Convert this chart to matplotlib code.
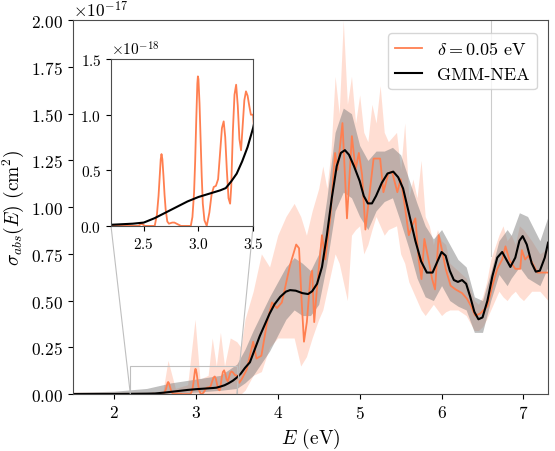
import numpy as np
import matplotlib
matplotlib.use("Agg")
import matplotlib.pyplot as plt
from mpl_toolkits.axes_grid1.inset_locator import mark_inset

plt.rcParams['font.family'] = 'serif'
plt.rcParams['font.serif'] = ['cmr10', 'DejaVu Serif']
plt.rcParams['mathtext.fontset'] = 'cm'
plt.rcParams['axes.formatter.use_mathtext'] = True
plt.rcParams['axes.unicode_minus'] = False

SCALE = 1e-17  # all values below in units of 1e-17 cm^2

# GMM-NEA (black) curve
E_gmm = [1.5, 2.0, 2.2, 2.3, 2.4, 2.5, 2.6, 2.7, 2.8, 2.9, 3.0, 3.05, 3.1,
         3.15, 3.2, 3.25, 3.3, 3.35, 3.4, 3.45, 3.5, 3.55, 3.6,
         3.66, 3.72, 3.78, 3.84, 3.9, 3.96, 4.03, 4.1, 4.15, 4.22, 4.3, 4.37,
         4.42, 4.48, 4.54, 4.6, 4.66, 4.72, 4.77, 4.82, 4.87, 4.93, 5.0, 5.05,
         5.1, 5.15, 5.2, 5.27, 5.34, 5.41, 5.47, 5.53, 5.6, 5.68, 5.75, 5.82,
         5.89, 5.95, 6.0, 6.05, 6.1, 6.15, 6.2, 6.25, 6.3, 6.35, 6.4, 6.45,
         6.5, 6.56, 6.62, 6.68, 6.74, 6.79, 6.84, 6.9, 6.95, 6.99, 7.04, 7.1,
         7.15, 7.2, 7.26, 7.3]
gmm = [0.0, 0.0005, 0.001, 0.0015, 0.002, 0.003, 0.007, 0.012, 0.017, 0.022,
       0.026, 0.0275, 0.029, 0.0305, 0.032, 0.034, 0.04, 0.047, 0.058, 0.071,
       0.088, 0.11, 0.14, 0.17, 0.24, 0.31, 0.37, 0.43, 0.48, 0.52,
       0.548, 0.556, 0.553, 0.54, 0.535, 0.55, 0.59, 0.68, 0.85, 1.05, 1.22,
       1.29, 1.305, 1.28, 1.22, 1.14, 1.06, 1.02, 1.02, 1.06, 1.13, 1.18,
       1.19, 1.16, 1.10, 0.97, 0.82, 0.71, 0.65, 0.65, 0.71, 0.76, 0.74,
       0.66, 0.61, 0.60, 0.61, 0.59, 0.52, 0.44, 0.40, 0.41, 0.50, 0.63,
       0.73, 0.76, 0.72, 0.68, 0.73, 0.82, 0.845, 0.80, 0.70, 0.655, 0.66,
       0.73, 0.81]

# GMM-NEA uncertainty band
E_gband = [1.5, 2.0, 2.4, 2.7, 3.0, 3.3, 3.5, 3.6, 3.7, 3.9, 4.1, 4.2, 4.3,
           4.4, 4.5, 4.6, 4.7, 4.8, 4.9, 5.0, 5.1, 5.2, 5.3, 5.4, 5.5, 5.6,
           5.7, 5.8, 5.9, 6.0, 6.1, 6.2, 6.3, 6.4, 6.5, 6.6, 6.7, 6.8, 6.85,
           6.95, 7.05, 7.2, 7.3]
gmm_hi = [0.01, 0.015, 0.03, 0.06, 0.08, 0.10, 0.16, 0.24, 0.34, 0.52, 0.68,
          0.73, 0.70, 0.66, 0.75, 1.05, 1.40, 1.53, 1.50, 1.33, 1.25, 1.30,
          1.30, 1.32, 1.28, 1.15, 1.02, 0.90, 0.83, 0.88, 0.80, 0.72, 0.68,
          0.52, 0.50, 0.65, 0.82, 0.88, 0.85, 0.97, 0.95, 0.82, 0.95]
gmm_lo = [0.0, 0.0, 0.0, 0.005, 0.01, 0.02, 0.03, 0.06, 0.10, 0.23, 0.40,
          0.45, 0.42, 0.42, 0.48, 0.70, 0.98, 1.08, 1.05, 0.95, 0.88, 0.98,
          1.03, 1.05, 0.92, 0.78, 0.62, 0.52, 0.50, 0.58, 0.50, 0.47, 0.45,
          0.33, 0.33, 0.50, 0.64, 0.58, 0.62, 0.68, 0.62, 0.58, 0.68]

# delta = 0.05 eV spectrum (orange)
E_d = [1.5, 2.45, 2.48, 2.51, 2.60, 2.62, 2.635, 2.645, 2.655, 2.662, 2.67,
       2.68, 2.69, 2.70, 2.715, 2.73, 2.76, 2.78, 2.80, 2.84, 2.93, 2.945,
       2.96, 2.97, 2.98, 2.99, 2.995, 3.0, 3.01, 3.02, 3.03, 3.04, 3.055,
       3.076, 3.10, 3.12, 3.14, 3.16, 3.18, 3.20, 3.215, 3.231, 3.245, 3.26,
       3.275, 3.29, 3.30, 3.315, 3.33, 3.345, 3.36, 3.375, 3.39, 3.405, 3.42,
       3.435, 3.45, 3.465, 3.48, 3.50, 3.53, 3.56, 3.62, 3.70, 3.74, 3.80,
       3.87, 3.93, 3.99, 4.05, 4.15, 4.225, 4.26, 4.29, 4.32, 4.355, 4.40,
       4.42, 4.445, 4.485, 4.52, 4.54, 4.58, 4.64, 4.70, 4.73, 4.79, 4.845,
       4.905, 4.95, 4.99, 5.03, 5.07, 5.13, 5.17, 5.21, 5.25, 5.29, 5.35,
       5.395, 5.46, 5.50, 5.54, 5.60, 5.64, 5.68, 5.72, 5.755, 5.79, 5.84,
       5.885, 5.92, 5.965, 6.005, 6.05, 6.11, 6.17, 6.25, 6.31, 6.36, 6.41,
       6.47, 6.56, 6.62, 6.68, 6.74, 6.78, 6.83, 6.90, 6.96, 6.98, 7.02,
       7.06, 7.17, 7.30]
d05 = [0.0, 0.0, 0.002, 0.0, 0.0, 0.01, 0.027, 0.043, 0.06, 0.0646, 0.06,
       0.045, 0.028, 0.015, 0.004, 0.002, 0.003, 0.003, 0.002, 0.0, 0.0,
       0.008, 0.03, 0.058, 0.095, 0.128, 0.1345, 0.132, 0.11, 0.078, 0.045,
       0.02, 0.005, 0.0, 0.012, 0.028, 0.035, 0.036, 0.042, 0.068, 0.088,
       0.094, 0.08, 0.05, 0.025, 0.02, 0.035, 0.085, 0.118, 0.127, 0.108,
       0.078, 0.068, 0.09, 0.113, 0.121, 0.117, 0.108, 0.10, 0.10, 0.06,
       0.08, 0.13, 0.28, 0.19, 0.205, 0.385, 0.49, 0.46, 0.49, 0.69, 0.80,
       0.78, 0.51, 0.28, 0.385, 0.63, 0.66, 0.385, 0.60, 0.76, 0.85, 0.72,
       0.94, 1.29, 1.20, 1.45, 0.94, 1.38, 1.20, 1.29, 1.17, 0.88, 1.11,
       1.26, 1.26, 1.26, 1.08, 1.18, 1.19, 1.08, 1.15, 1.04, 0.85, 0.90,
       0.94, 0.72, 0.615, 0.83, 0.72, 0.615, 0.56, 0.85, 0.77, 0.67, 0.58,
       0.56, 0.54, 0.51, 0.47, 0.42, 0.43, 0.47, 0.58, 0.67, 0.72, 0.79,
       0.715, 0.67, 0.67, 0.77, 0.72, 0.74, 0.65, 0.65]

# delta = 0.05 eV uncertainty band
E_dband = [1.5, 2.5, 2.6, 2.66, 2.75, 2.9, 2.99, 3.05, 3.15, 3.2, 3.25, 3.3,
           3.35, 3.42, 3.5, 3.55, 3.6, 3.7, 3.8, 3.9, 4.0, 4.1, 4.2, 4.28,
           4.35, 4.42, 4.5, 4.55, 4.6, 4.65, 4.7, 4.75, 4.8, 4.85, 4.9, 4.95,
           5.0, 5.05, 5.1, 5.15, 5.2, 5.25, 5.3, 5.35, 5.45, 5.5, 5.55, 5.6,
           5.65, 5.7, 5.75, 5.8, 5.85, 5.9, 5.95, 6.0, 6.05, 6.1, 6.2, 6.3,
           6.4, 6.45, 6.5, 6.55, 6.6, 6.7, 6.75, 6.8, 6.85, 6.9, 6.95, 7.0,
           7.1, 7.2, 7.3]
d05_hi = [0.01, 0.01, 0.02, 0.18, 0.03, 0.05, 0.40, 0.08, 0.10, 0.30, 0.15,
          0.33, 0.15, 0.30, 0.28, 0.25, 0.40, 0.55, 0.75, 0.68, 0.85, 0.95,
          1.02, 0.95, 0.85, 0.98, 1.10, 1.22, 1.10, 1.30, 1.70, 1.50, 2.00,
          1.55, 1.70, 1.45, 1.60, 1.40, 1.35, 1.55, 1.45, 1.65, 1.40, 1.35,
          1.40, 1.20, 1.45, 1.05, 1.15, 1.05, 1.25, 0.95, 0.90, 0.80, 0.88,
          0.82, 0.80, 0.70, 0.66, 0.62, 0.50, 0.48, 0.52, 0.60, 0.72, 0.85,
          0.90, 0.82, 0.85, 0.80, 0.90, 0.88, 0.82, 0.75, 0.78]
d05_lo = [0.0, 0.0, 0.0, 0.0, 0.0, 0.0, 0.0, 0.0, 0.0, 0.0, 0.0, 0.0, 0.0,
          0.0, 0.0, 0.0, 0.02, 0.10, 0.12, 0.25, 0.30, 0.30, 0.30, 0.15,
          0.20, 0.30, 0.40, 0.45, 0.55, 0.65, 0.75, 0.70, 0.60, 0.50, 0.85,
          0.88, 0.90, 0.75, 0.80, 0.88, 0.95, 0.90, 0.85, 0.88, 0.90, 0.75,
          0.70, 0.60, 0.55, 0.50, 0.45, 0.42, 0.45, 0.48, 0.45, 0.42, 0.44,
          0.45, 0.45, 0.42, 0.34, 0.34, 0.36, 0.40, 0.45, 0.55, 0.52, 0.50,
          0.53, 0.55, 0.52, 0.50, 0.55, 0.55, 0.50]

orange = '#ff7f50'
sc = lambda v: np.array(v) * SCALE

fig = plt.figure(figsize=(5.55, 4.52), dpi=100)
ax = fig.add_axes([0.1315, 0.126, 0.856, 0.827])

ax.axvline(6.6, ymin=0.37, color='0.8', lw=0.8, zorder=0)
ax.fill_between(E_dband, sc(d05_lo), sc(d05_hi), color=orange, alpha=0.25, lw=0)
ax.fill_between(E_gband, sc(gmm_lo), sc(gmm_hi), color='gray', alpha=0.5, lw=0)
ax.plot(E_d, sc(d05), color=orange, lw=1.3, label=r'$\delta = 0.05$ eV')
ax.plot(E_gmm, sc(gmm), color='black', lw=1.5, label='GMM-NEA')
ax.set_xlim(1.5, 7.3)
ax.set_ylim(0, 2e-17)
ax.set_yticks(np.arange(0, 2.01, 0.25) * SCALE)
ax.set_xticks([2, 3, 4, 5, 6, 7])
ax.tick_params(labelsize=12.5)
ax.yaxis.get_offset_text().set_fontsize(12.5)
ax.set_xlabel(r'$E$ (eV)', fontsize=14)
ax.set_ylabel(r'$\sigma_{abs}(E)$ (cm$^2$)', fontsize=14)
for s in ax.spines.values():
    s.set_color('0.3')
ax.legend(loc='upper right', fontsize=13, handlelength=1.5,
          bbox_to_anchor=(0.995, 0.99))

# inset: lines only
axins = fig.add_axes([0.2, 0.498, 0.256, 0.369])
axins.plot(E_d, sc(d05), color=orange, lw=1.3)
axins.plot(E_gmm, sc(gmm), color='black', lw=1.5)
axins.set_xlim(2.2, 3.5)
axins.set_ylim(0, 1.5e-18)
axins.set_xticks([2.5, 3.0, 3.5])
axins.set_yticks([0, 0.5e-18, 1.0e-18, 1.5e-18])
axins.tick_params(labelsize=11)
axins.yaxis.get_offset_text().set_fontsize(11)
for s in axins.spines.values():
    s.set_color('0.3')

mark_inset(ax, axins, loc1=3, loc2=4, fc='none', ec='0.75', lw=0.8)

fig.savefig('out.png', dpi=100)
